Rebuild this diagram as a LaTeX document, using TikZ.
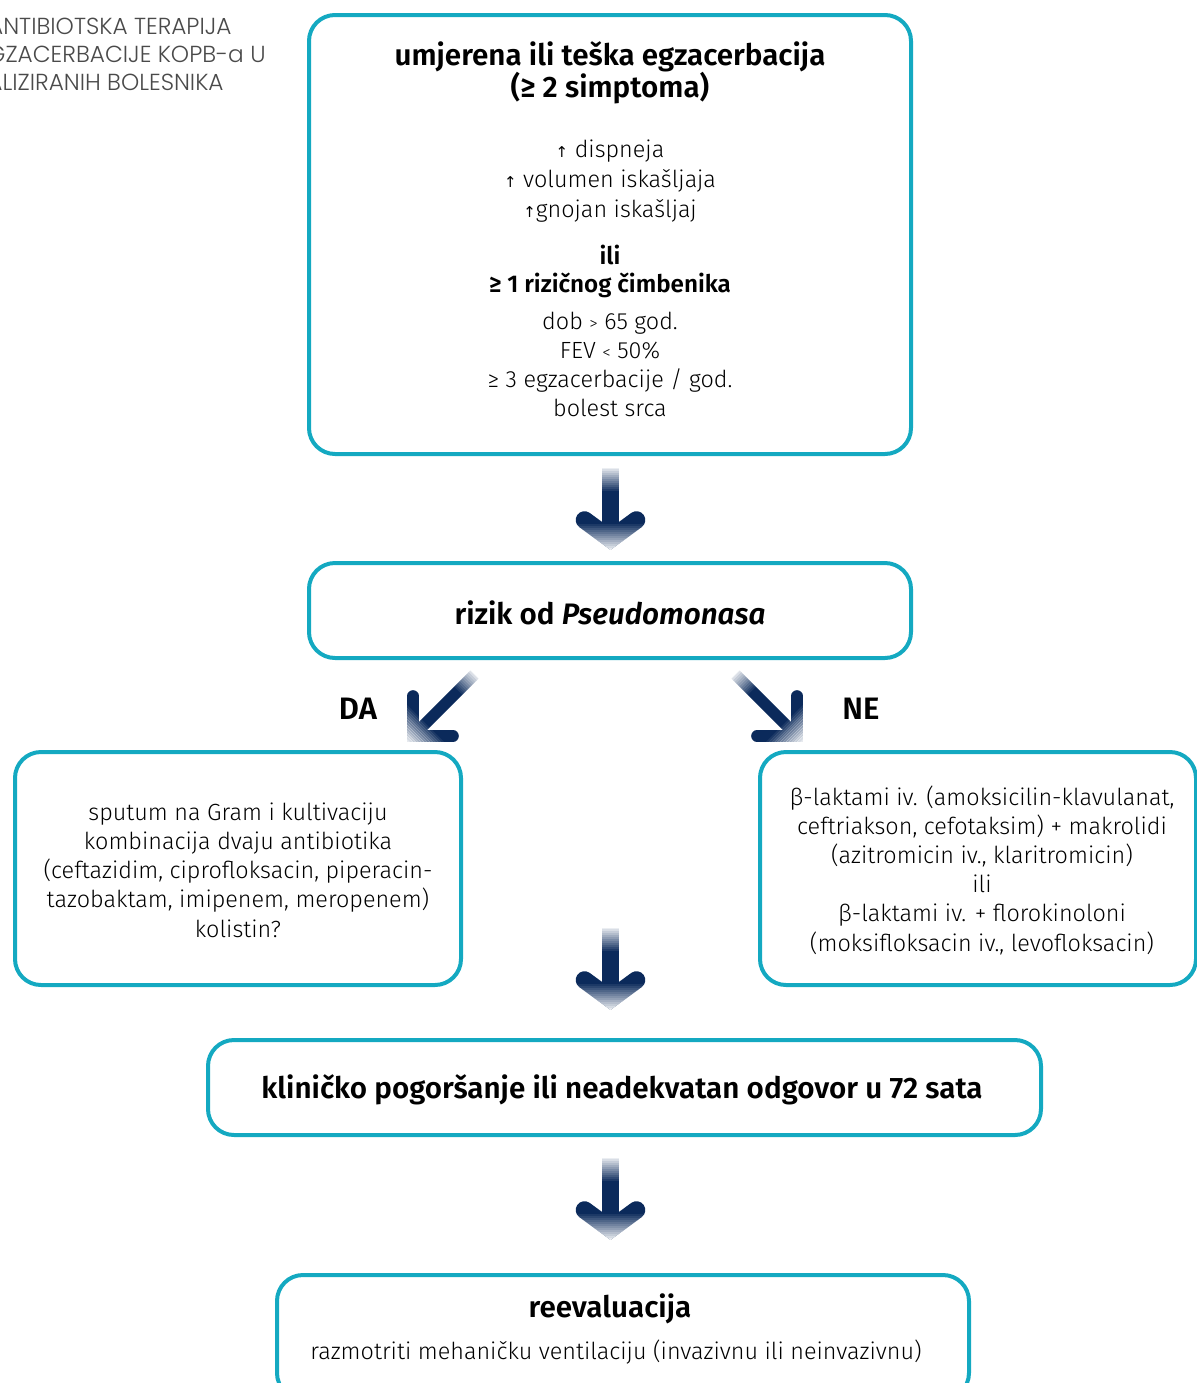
\documentclass[tikz,border=0pt]{standalone}
\usepackage{fontspec}
\setmainfont{Fira Sans}[UprightFont=* Light, BoldFont=* SemiBold, ItalicFont=* Light Italic, BoldItalicFont=* SemiBold Italic]
\newfontfamily\headfont{Poppins}[UprightFont=* Light]
\newfontfamily\symfont{DejaVu Sans}
\definecolor{tealc}{HTML}{14A9C1}
\definecolor{navyc}{HTML}{0B2A5B}
\definecolor{greyc}{HTML}{4A4A4A}
\newcommand\up{{\symfont\fontsize{7.5}{7.5}\selectfont ↑}}
\newcommand\sgt{{\fontsize{8.5}{8.5}\selectfont >}}
\newcommand\slt{{\fontsize{8.5}{8.5}\selectfont <}}
% #1 apex, #2 rotation, #3 line width, #4 arm x, #5 arm y, #6 shaft length, #7 outer apex offset, #8 clip slope
\newcommand\fatarrow[8]{%
\begin{scope}[shift={#1}, rotate=#2]
  \draw[navyc, line width=#3, line cap=butt] (0,-#6) -- (0,0);
  \draw[navyc, line width=#3, line cap=round, line join=miter] (-#4,-#5) -- (0,0) -- (#4,-#5);
  \foreach \i in {0,...,11}{
    \pgfmathsetmacro\op{0.92*(1-\i/12)}
    \fill[white, opacity=\op] (-13,-#6-1+2*\i) rectangle (13,-#6+1+2*\i);
  }
  \begin{scope}
    \clip (0,#7) -- (-50,#7-50*#8) -- (50,#7-50*#8) -- cycle;
    \foreach \i in {0,...,12}{
      \pgfmathsetmacro\op{0.9*(\i+1)/13}
      \fill[white, opacity=\op] (-60,#7-26+2*\i) rectangle (60,#7-24+2*\i+0.3);
    }
  \end{scope}
\end{scope}}
\begin{document}
\begin{tikzpicture}[x=0.5pt,y=-0.5pt,
  box/.style={draw=tealc, line width=2pt, rounded corners=13pt, inner sep=0pt},
  body/.style={font=\fontsize{11.7}{14.6}\selectfont, align=center, text=black, inner sep=0pt},
  head/.style={font=\bfseries\fontsize{14.8}{16}\selectfont, align=center, text=black, inner sep=0pt},
  tl/.style={font=\headfont\fontsize{11.6}{14}\selectfont, text=greyc, inner sep=0pt, anchor=base east}]
\useasboundingbox (0,0) rectangle (1197,1383);
\clip (0,0) rectangle (1197,1383);

% corner title (cut by the page edge)
\node[tl] (tla) at (232,34.5) {ANTIBIOTSKA TERAPIJA};
\node[tl] (tlb) at (266,62.5) {EGZACERBACIJE KOPB-a U};
\node[tl] (tlc) at (224,90.5) {HOSPITALIZIRANIH BOLESNIKA};

% boxes
\node[box, minimum width=301pt, minimum height=219.5pt] (top) at (610,234.5) {};
\node[box, minimum width=301pt, minimum height=47.5pt] (pseudo) at (610,610.5) {};
\node[box, minimum width=223pt, minimum height=116.5pt] (da) at (238,868.5) {};
\node[box, minimum width=218pt, minimum height=116.5pt] (ne) at (978,868.5) {};
\node[box, minimum width=416.5pt, minimum height=47.5pt] (klin) at (624.5,1087.5) {};
\node[box, minimum width=346pt, minimum height=62pt] (reev) at (623,1337) {};

% top box text
\node[head] (t1) at (610,73) {umjerena ili teška egzacerbacija\\(≥ 2 simptoma)};
\node[body, font=\fontsize{11.7}{15}\selectfont] (t2) at (610,181) {\up\ dispneja\\\up\ volumen iskašljaja\\\up gnojan iskašljaj};
\node[body, font=\bfseries\fontsize{12.1}{14}\selectfont] (t3) at (610,271) {ili\\≥ 1 rizičnog čimbenika};
\node[body, font=\fontsize{11.7}{14.5}\selectfont] (t4) at (610,364) {dob \sgt\ 65 god.\\FEV \slt\ 50\%\\≥ 3 egzacerbacije / god.\\bolest srca};

\node[head] (tp) at (610,613) {rizik od \textit{Pseudomonasa}};

\node[head, font=\bfseries\fontsize{15.5}{16}\selectfont] (lda) at (358,709) {DA};
\node[head, font=\bfseries\fontsize{15.5}{16}\selectfont] (lne) at (861,709) {NE};

\node[body] (tda) at (238,870) {sputum na Gram i kultivaciju\\kombinacija dvaju antibiotika\\(ceftazidim, ciprofloksacin, piperacin-\\tazobaktam, imipenem, meropenem)\\kolistin?};
\node[body] (tne) at (982,870) {β-laktami iv. (amoksicilin-klavulanat,\\ceftriakson, cefotaksim) + makrolidi\\(azitromicin iv., klaritromicin)\\ili\\β-laktami iv. + florokinoloni\\(moksifloksacin iv., levofloksacin)};

\node[head] (tk) at (622,1090) {kliničko pogoršanje ili neadekvatan odgovor u 72 sata};

\node[head] (tr1) at (610,1309) {reevaluacija};
\node[body] (tr2) at (616,1352) {razmotriti mehaničku ventilaciju (invazivnu ili neinvazivnu)};

% arrows
\fatarrow{(610.5,539)}{0}{8.8pt}{26}{19}{71}{11}{0.73}
\fatarrow{(610.5,999)}{0}{8.8pt}{26}{19}{71}{11}{0.73}
\fatarrow{(610.5,1229)}{0}{8.8pt}{26}{19}{71}{11}{0.73}
\fatarrow{(413,736)}{-45}{5.8pt}{28.3}{28.3}{87}{8.2}{1}
\fatarrow{(797,736)}{45}{5.8pt}{28.3}{28.3}{87}{8.2}{1}
\end{tikzpicture}
\end{document}
